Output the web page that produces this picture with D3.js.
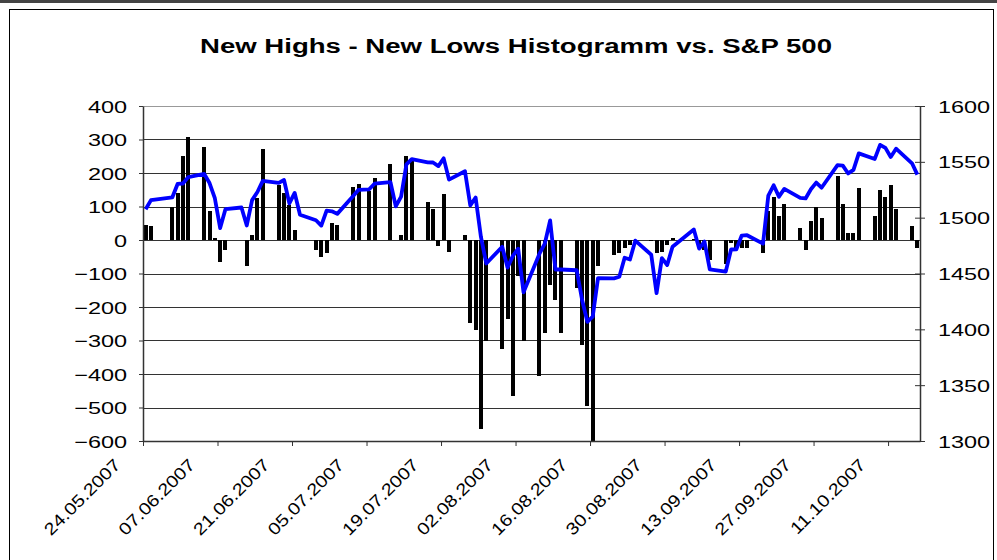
<!DOCTYPE html>
<html>
<head>
<meta charset="utf-8">
<script src="https://cdn.jsdelivr.net/npm/d3@7"></script>
<style>
  body { margin: 0; background: #fff; }
  svg { display: block; font-family: "Liberation Sans", Arial, sans-serif; }
</style>
</head>
<body>
<svg id="chart" width="997" height="560"></svg>
<script>
"use strict";

// trading days shown in the chart
const DAYS = [
  "2007-05-24","2007-05-25","2007-05-29","2007-05-30","2007-05-31","2007-06-01",
  "2007-06-04","2007-06-05","2007-06-06","2007-06-07","2007-06-08",
  "2007-06-11","2007-06-12","2007-06-13","2007-06-14","2007-06-15",
  "2007-06-18","2007-06-19","2007-06-20","2007-06-21","2007-06-22",
  "2007-06-25","2007-06-26","2007-06-27","2007-06-28","2007-06-29",
  "2007-07-02","2007-07-03","2007-07-05","2007-07-06",
  "2007-07-09","2007-07-10","2007-07-11","2007-07-12","2007-07-13",
  "2007-07-16","2007-07-17","2007-07-18","2007-07-19","2007-07-20",
  "2007-07-23","2007-07-24","2007-07-25","2007-07-26","2007-07-27",
  "2007-07-30","2007-07-31","2007-08-01","2007-08-02","2007-08-03",
  "2007-08-06","2007-08-07","2007-08-08","2007-08-09","2007-08-10",
  "2007-08-13","2007-08-14","2007-08-15","2007-08-16","2007-08-17",
  "2007-08-20","2007-08-21","2007-08-22","2007-08-23","2007-08-24",
  "2007-08-27","2007-08-28","2007-08-29","2007-08-30","2007-08-31",
  "2007-09-04","2007-09-05","2007-09-06","2007-09-07",
  "2007-09-10","2007-09-11","2007-09-12","2007-09-13","2007-09-14",
  "2007-09-17","2007-09-18","2007-09-19","2007-09-20","2007-09-21",
  "2007-09-24","2007-09-25","2007-09-26","2007-09-27","2007-09-28",
  "2007-10-01","2007-10-02","2007-10-03","2007-10-04","2007-10-05",
  "2007-10-08","2007-10-09","2007-10-10","2007-10-11","2007-10-12",
  "2007-10-15","2007-10-16"
];

// new highs minus new lows (left axis)
const NHNL = [
  46, 43, 100, 140, 250, 307,
  277, 88, 7, -67, -31,
  0, -78, 16, 125, 271,
  165, 141, 105, 31, 0,
  -31, -52, -40, 52, 46,
  157, 166, 147, 186,
  226, 0, 16, 250, 240,
  114, 94, -19, 136, -37,
  16, -249, -270, -564, -300,
  -325, -237, -467, -108, -300,
  -405, -278, -135, -178, -278,
  -144, -312, -496, -600, -79,
  -46, -40, -25, -16, 0,
  -4, -39, -37, -14, 7,
  3, -19, -29, -59,
  -72, -9, -24, -25, -24,
  -39, 88, 128, 73, 108,
  37, -31, 58, 100, 67,
  192, 108, 22, 22, 156,
  73, 150, 129, 165, 94,
  43, -25
];

// S&P 500 close (right axis)
const SPX = [
  1507.5, 1515.7, 1518.1, 1530.2, 1530.6, 1536.3,
  1539.2, 1531.0, 1517.4, 1490.7, 1507.7,
  1509.1, 1493.0, 1515.7, 1523.0, 1532.9,
  1531.1, 1533.7, 1512.8, 1522.2, 1502.6,
  1497.7, 1492.9, 1506.3, 1505.7, 1503.4,
  1519.4, 1524.9, 1525.4, 1530.4,
  1531.9, 1510.1, 1518.8, 1547.7, 1552.5,
  1549.5, 1549.4, 1546.2, 1553.1, 1534.1,
  1541.6, 1511.0, 1518.1, 1482.7, 1459.0,
  1473.9, 1455.3, 1465.8, 1472.2, 1433.1,
  1467.7, 1476.7, 1497.5, 1453.6, 1453.6,
  1452.9, 1426.5, 1406.7, 1411.3, 1445.9,
  1445.6, 1447.1, 1464.1, 1462.5, 1479.4,
  1466.8, 1432.4, 1463.8, 1457.6, 1474.0,
  1489.4, 1472.3, 1478.6, 1453.6,
  1451.7, 1471.5, 1471.6, 1484.0, 1484.3,
  1476.7, 1519.8, 1529.0, 1518.8, 1525.8,
  1517.7, 1517.2, 1525.4, 1531.4, 1526.8,
  1547.0, 1546.6, 1539.6, 1542.8, 1557.6,
  1552.6, 1565.2, 1562.5, 1554.4, 1561.8,
  1548.7, 1538.5
];

const X_TICKS = ["24.05.2007","07.06.2007","21.06.2007","05.07.2007","19.07.2007",
  "02.08.2007","16.08.2007","30.08.2007","13.09.2007","27.09.2007","11.10.2007"];
const LEFT_TICKS = [-600, -500, -400, -300, -200, -100, 0, 100, 200, 300, 400];
const RIGHT_TICKS = [1300, 1350, 1400, 1450, 1500, 1550, 1600];

const TITLE = "New Highs - New Lows Histogramm vs. S&P 500";

const parseISO = d3.utcParse("%Y-%m-%d");
const parseDE  = d3.utcParse("%d.%m.%Y");

const data = DAYS.map((d, i) => ({ date: parseISO(d), v: NHNL[i], s: SPX[i] }));

const svg = d3.select("#chart");
const M = { top: 106, right: 77, bottom: 119, left: 143 };
const W = 997, H = 560;
const iw = W - M.left - M.right;
const ih = H - M.top - M.bottom;

// frame
svg.append("rect").attr("x", 0).attr("y", 0).attr("width", W).attr("height", 3).attr("fill", "#444");
svg.append("rect").attr("x", 9.5).attr("y", 9.5).attr("width", 984).attr("height", 560)
  .attr("fill", "none").attr("stroke", "#000").attr("stroke-width", 1);

svg.append("text")
  .attr("x", 516).attr("y", 53)
  .attr("text-anchor", "middle")
  .attr("textLength", 632).attr("lengthAdjust", "spacingAndGlyphs")
  .style("font-size", "20px").style("font-weight", "bold")
  .text(TITLE);

const g = svg.append("g").attr("transform", `translate(${M.left},${M.top})`);

const start = parseISO(DAYS[0]);
const end = d3.utcDay.offset(parseISO(DAYS[DAYS.length - 1]), 1);
const x = d3.scaleUtc().domain([start, end]).range([0, iw]);
const slot = x(d3.utcDay.offset(start, 1)) - x(start);
const yL = d3.scaleLinear().domain([-600, 400]).range([ih, 0]);
const yR = d3.scaleLinear().domain([1300, 1600]).range([ih, 0]);

// gridlines
g.selectAll("line.grid").data(LEFT_TICKS.filter(t => t > -600)).join("line")
  .attr("class", "grid")
  .attr("x1", 0).attr("x2", iw)
  .attr("y1", d => Math.round(yL(d)) + 0.5).attr("y2", d => Math.round(yL(d)) + 0.5)
  .attr("stroke", d => d === 400 ? "#999" : "#333")
  .attr("stroke-width", 1);

// bars
g.selectAll("rect.bar").data(data).join("rect")
  .attr("class", "bar")
  .attr("x", d => Math.round(x(d.date) + slot / 2 - 2))
  .attr("width", 4)
  .attr("y", d => yL(Math.max(0, d.v)))
  .attr("height", d => Math.abs(yL(d.v) - yL(0)))
  .attr("fill", "#000")
  .attr("shape-rendering", "crispEdges");

// S&P line
const line = d3.line().x(d => x(d.date) + slot / 2).y(d => yR(d.s));
g.append("path").datum(data)
  .attr("d", line)
  .attr("fill", "none")
  .attr("stroke", "#0000ff")
  .attr("stroke-width", 3.8)
  .attr("stroke-linejoin", "round");

// left axis
const axL = g.append("g")
  .call(d3.axisLeft(yL).tickValues(LEFT_TICKS).tickSize(4).tickSizeOuter(0));
axL.select(".domain").attr("stroke", "#333").attr("stroke-width", 1.5);
axL.selectAll(".tick line").attr("stroke", "#333");
axL.selectAll(".tick text")
  .attr("x", 0).attr("dy", "0.36em")
  .attr("transform", "translate(-16,0) scale(1.38,1)")
  .style("font-size", "17px").attr("fill", "#000");

// right axis
const axR = g.append("g").attr("transform", `translate(${iw},0)`)
  .call(d3.axisRight(yR).tickValues(RIGHT_TICKS).tickSize(5).tickSizeOuter(0)
    .tickFormat(d3.format("d")));
axR.select(".domain").attr("stroke", "#333").attr("stroke-width", 1.5);
axR.selectAll(".tick line").attr("x1", -5).attr("x2", 5).attr("stroke", "#333");
axR.selectAll(".tick text")
  .attr("x", 0).attr("dy", "0.36em")
  .attr("transform", "translate(18,0) scale(1.38,1)")
  .style("font-size", "17px").attr("fill", "#000");

// bottom axis
const axB = g.append("g").attr("transform", `translate(0,${ih})`)
  .call(d3.axisBottom(x)
    .tickValues(X_TICKS.map(parseDE))
    .tickSize(5).tickSizeOuter(0)
    .tickFormat((d, i) => X_TICKS[i]));
axB.select(".domain").attr("stroke", "#333").attr("stroke-width", 1.5);
axB.selectAll(".tick line").attr("stroke", "#333");
axB.selectAll(".tick text")
  .attr("x", 0).attr("y", 0).attr("dy", 0)
  .attr("text-anchor", "end")
  .attr("transform", "translate(-22,25) rotate(-45) scale(1.17,1)")
  .style("font-size", "17px").attr("fill", "#000");
</script>
</body>
</html>
